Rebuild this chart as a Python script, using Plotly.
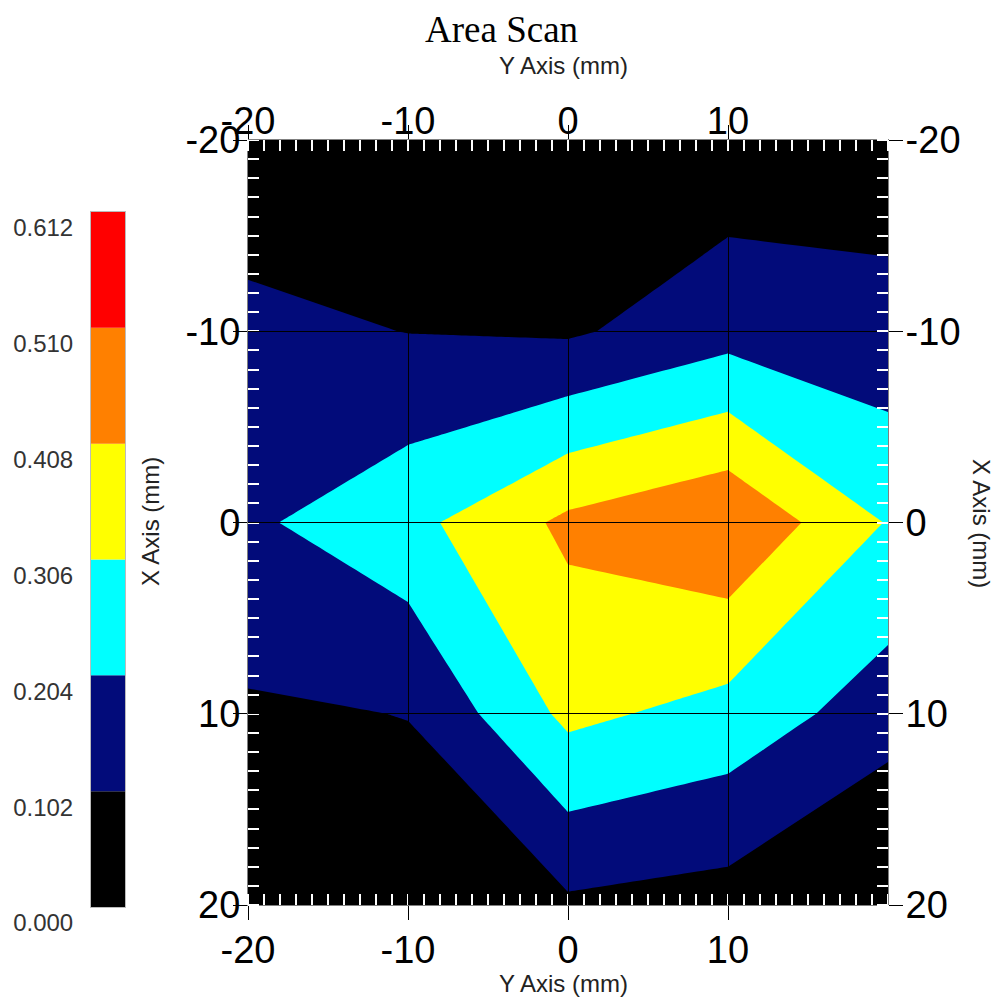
import plotly.graph_objects as go

# ---------------- data ----------------
y_axis_vals = [-20, -10, 0, 10, 20]      # horizontal axis ("Y Axis (mm)")
x_axis_vals = [-20, -10, 0, 10, 20]      # vertical axis ("X Axis (mm)")
# rows follow x_axis_vals, columns follow y_axis_vals
z_row_m20 = [0.026, 0.050, 0.050, 0.037, 0.052]
z_row_m10 = [0.130, 0.100, 0.088, 0.165, 0.134]
z_row_0   = [0.187, 0.275, 0.430, 0.500, 0.300]
z_row_10  = [0.089, 0.104, 0.330, 0.270, 0.150]
z_row_20  = [0.060, 0.050, 0.085, 0.060, -0.040]
z = [z_row_m20, z_row_m10, z_row_0, z_row_10, z_row_20]

levels = [0.000, 0.102, 0.204, 0.306, 0.408, 0.510, 0.612]
level_labels = ["0.000", "0.102", "0.204", "0.306", "0.408", "0.510", "0.612"]
band_colors = ["#000000", "#020b7a", "#00ffff", "#ffff00", "#ff8000", "#ff0000"]
h_ticks = [-20, -10, 0, 10]
v_ticks = [-20, -10, 0, 10, 20]

# ---------------- geometry (page pixels, figure sits at an 8px body offset) ----------------
OFF = 8
W, H = 1006 - 2 * OFF, 1005 - 2 * OFF
def fx(px):
    return (px - OFF) / W
def fy(py):
    return 1 - (py - OFF) / H
def px_x(a, b):
    return [fx(a), fx(b)]
def px_y(top, bottom):
    return [fy(bottom), fy(top)]

plot_dx = px_x(248, 888)
plot_dy = px_y(140, 905)
cb_dx = px_x(91, 125)
cb_dy = px_y(212, 907)

step = levels[1] - levels[0]
n_bands = len(band_colors)
# contour fill colours are sampled at level + step/2 -> positions k/6
colorscale = [[0.0, band_colors[0]]]
for k, c in enumerate(band_colors):
    colorscale.append([(k + 1) / n_bands, c])

FONT = "Arial, Liberation Sans, sans-serif"
tick_font = dict(family=FONT, size=38, color="black")
title_font = dict(family=FONT, size=24, color="#222")

fig = go.Figure()

fig.add_trace(go.Contour(
    x=y_axis_vals, y=x_axis_vals, z=z,
    autocontour=False,
    contours=dict(start=levels[0], end=levels[-2] + step / 2, size=step,
                  coloring="fill", showlines=False),
    colorscale=colorscale, showscale=False, line=dict(width=0, smoothing=0),
    xaxis="x", yaxis="y", hoverinfo="skip",
))

# empty trace to create the second subplot that carries the grid above the fills
fig.add_trace(go.Scatter(x=[], y=[], xaxis="x2", yaxis="y2", showlegend=False))

# colour bar drawn as stacked bars
fig.add_trace(go.Bar(
    x=[0] * n_bands,
    y=[levels[i + 1] - levels[i] for i in range(n_bands)],
    base=levels[:-1],
    marker=dict(color=band_colors, line=dict(width=0)),
    width=1, xaxis="x3", yaxis="y3", showlegend=False, hoverinfo="skip",
))

minor_common = dict(ticks="inside", ticklen=11, tickwidth=2, tickcolor="white", dtick=1, tick0=0)
axis_common = dict(
    range=[-20, 20], showline=True, linecolor="#7f7f7f", linewidth=1,
    ticks="outside", ticklen=14, tickwidth=1, tickcolor="black",
    tickfont=tick_font, zeroline=False, fixedrange=True, automargin=False,
)
h_text = [str(v) for v in h_ticks]
v_text = [str(v) for v in v_ticks]

fig.update_layout(
    width=W, height=H,
    margin=dict(l=0, r=0, t=0, b=0, pad=0, autoexpand=False),
    paper_bgcolor="white", plot_bgcolor="rgba(0,0,0,0)",
    showlegend=False,
    xaxis=dict(axis_common, domain=plot_dx, anchor="y", side="bottom",
               tickvals=h_ticks, ticktext=h_text, showgrid=False, minor=minor_common,
               ticklabelstandoff=-3),
    yaxis=dict(axis_common, range=[20, -20], domain=plot_dy, anchor="x", side="left",
               tickvals=v_ticks, ticktext=v_text, showgrid=False, minor=minor_common,
               ticklabelstandoff=-15),
    xaxis2=dict(axis_common, domain=plot_dx, anchor="y2", side="top",
                tickvals=h_ticks, ticktext=h_text, showgrid=True, gridcolor="black", gridwidth=1,
                minor=minor_common, ticklabelstandoff=-24),
    yaxis2=dict(axis_common, range=[20, -20], domain=plot_dy, anchor="x2", side="right",
                tickvals=v_ticks, ticktext=v_text, showgrid=True, gridcolor="black", gridwidth=1,
                minor=minor_common, ticklabelstandoff=-5),
    xaxis3=dict(domain=cb_dx, anchor="y3", range=[-0.5, 0.5], showticklabels=False,
                ticks="", showgrid=False, zeroline=False, showline=True, mirror=True,
                linecolor="#bbbbbb", linewidth=1, fixedrange=True, automargin=False),
    yaxis3=dict(domain=cb_dy, anchor="x3", range=[levels[0], levels[-1]], side="left",
                tickvals=levels, ticktext=level_labels, ticks="",
                tickfont=dict(family=FONT, size=24, color="#333"),
                ticklabelshift=16, ticklabelstandoff=12,
                showgrid=False, zeroline=False, showline=True, mirror=True,
                linecolor="#bbbbbb", linewidth=1, fixedrange=True, automargin=False),
    annotations=[
        dict(text="Y Axis (mm)", x=fx(563), y=fy(66), yanchor="middle", textangle=0, font=title_font),
        dict(text="Y Axis (mm)", x=fx(563), y=fy(983), yanchor="middle", textangle=0, font=title_font),
        dict(text="X Axis (mm)", x=fx(150), y=fy(522), yanchor="middle", textangle=-90, font=title_font),
        dict(text="X Axis (mm)", x=fx(982), y=fy(523), yanchor="middle", textangle=90, font=title_font),
        dict(text="Area Scan", x=fx(501), y=1, yanchor="top", textangle=0, borderpad=0,
             font=dict(family="Times New Roman, Liberation Serif, serif", size=37, color="black")),
    ],
)
fig.update_annotations(xref="paper", yref="paper", xanchor="center", showarrow=False)

fig.write_html("out.html")
